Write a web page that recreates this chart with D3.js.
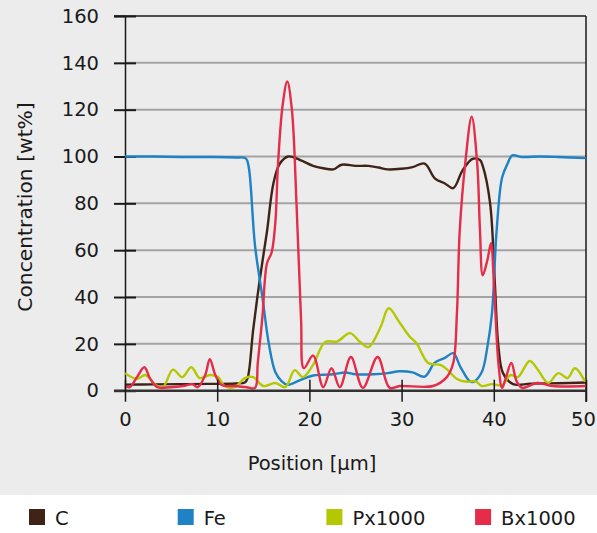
<!DOCTYPE html>
<html lang="en">
<head>
<meta charset="UTF-8">
<title>Concentration profile</title>
<script src="https://d3js.org/d3.v7.min.js"></script>
<style>
    body { margin: 0; padding: 0; background: #fff; }
    svg { display: block; }
    text { font-family: "DejaVu Sans", Arial, sans-serif; fill: #1a1a1a; }
</style>
</head>
<body>
<script>
// series: [position (µm), concentration]
const seriesC = [[0,2.6],[3,2.7],[6,2.8],[9,2.9],[12,3.1],[13,3.5],[13.3,5.4],[13.9,26],[14.6,47],[15.4,68],[16.1,88.6],[16.8,97],[17.7,100],[19,98.5],[20.4,96],[21.5,95],[22.6,94.5],[23.5,96.5],[25,96],[26.4,96],[27.5,95.3],[28.5,94.5],[30,94.8],[31.2,95.5],[32.5,97],[33.6,90.7],[34.7,88.5],[35.6,86.5],[36.6,94],[37.7,99],[38.5,98.5],[38.8,96],[39.6,80],[40.1,47],[40.5,19],[41,7.5],[42.1,2.8],[44,3],[47,3.2],[50,3.5]];
const seriesFe = [[0,100],[3,100],[6,99.8],[9,99.8],[12,99.6],[13.1,99.2],[13.4,96],[14.1,62],[14.9,40],[15.6,20],[16.3,8],[17,4],[17.6,2.5],[19,4.5],[20.4,6.5],[21.5,6.8],[22.6,7],[23.9,7.8],[25,7],[27,7],[28.5,7.5],[29.8,8.3],[31.2,7.8],[32.5,6],[33.6,12],[34.7,14],[35.6,16],[36.4,10],[37.4,4],[37.8,3.8],[38.7,8],[39.3,18.6],[39.8,33],[40.3,68],[40.9,91],[41.5,97],[42,100.5],[43,99.8],[45,100],[47,99.8],[50,99.3]];
const seriesP = [[0,7.5],[1.3,5],[2.2,6.7],[3.3,2.5],[4.1,1.5],[5.2,9],[6.2,5.8],[7.2,10],[8.1,5.4],[9.2,6.7],[10.1,5.8],[10.8,2],[11.9,1.5],[13,5.4],[13.9,5.8],[15,2],[16.3,3.3],[17.4,1.5],[18.4,8.8],[19.3,5.8],[20.4,11],[21.7,20.8],[23,21],[24.4,24.6],[25.5,20.8],[26.4,18.6],[27.7,27],[28.6,35.2],[29.8,29],[30.9,23],[31.6,20.4],[32.9,11.8],[34.2,11],[34.9,9.2],[36,5],[37.1,3.8],[38,4.1],[38.7,2],[39.8,2.8],[40.9,2.4],[41.8,6.7],[42.6,5.8],[43.9,12.7],[44.8,8.8],[45.9,3.3],[47,7.5],[48,5.4],[48.8,9.6],[49.9,3.8]];
const seriesB = [[0,2],[0.5,1.5],[1.3,5.8],[2.1,10],[2.7,5.4],[3.5,1.5],[4.9,1.5],[6.3,2],[7.3,2.8],[7.9,1.5],[8.7,6.7],[9.2,13.5],[9.8,6.7],[10.5,2.4],[11.9,2],[13.2,1.5],[14.1,1.2],[14.4,11.8],[14.9,31.4],[15.4,54.4],[15.9,59],[16.3,71.5],[16.6,97],[17.1,122],[17.6,132],[18.1,120],[18.6,80],[19.1,30],[19.4,9.6],[20.4,15],[21.5,1.5],[22.4,9.6],[23.3,1.5],[24.5,14.4],[25.8,1.2],[27.4,14.4],[28.7,1.2],[29.8,2],[33.4,2],[34.9,5.8],[35.6,11.8],[36,33],[36.3,68],[36.9,97],[37.6,117],[38.2,97],[38.5,68.5],[38.8,49.3],[39.3,55.7],[39.7,63],[40,47],[40.5,11.8],[40.9,1.2],[41.3,5.4],[41.9,11.8],[42.5,3.8],[43.1,1.2],[44.7,3.3],[46.4,2],[50,2]];

const legendNames = ["C", "Fe", "Px1000", "Bx1000"];
const colors = ["#3f2317", "#1e82c5", "#b3c800", "#e52c48"];
const yTicks = [0, 20, 40, 60, 80, 100, 120, 140, 160];
const xTicks = [0, 10, 20, 30, 40, 50];

const W = 597, H = 533;
const fontSize = 19.5;
const svg = d3.select("body").append("svg").attr("width", W).attr("height", H);

svg.append("rect").attr("width", W).attr("height", 495).attr("fill", "#ececec");

const x = d3.scaleLinear().domain([0, 50]).range([125, 586]);
const y = d3.scaleLinear().domain([0, 160]).range([390.7, 16]);

// gridlines
svg.append("g").selectAll("line")
    .data(yTicks.filter(d => d > 0 && d < 160))
    .enter().append("line")
    .attr("x1", 125).attr("x2", 586)
    .attr("y1", d => y(d)).attr("y2", d => y(d))
    .attr("stroke", "#a3a3a3").attr("stroke-width", 2);

// top and right frame
svg.append("line").attr("x1", 114).attr("x2", 586).attr("y1", y(160)).attr("y2", y(160))
    .attr("stroke", "#1a1a1a").attr("stroke-width", 1.5);
svg.append("line").attr("x1", 586).attr("x2", 586).attr("y1", y(160)).attr("y2", 402)
    .attr("stroke", "#1a1a1a").attr("stroke-width", 1.5);

// y axis
const yAxis = svg.append("g").attr("transform", "translate(125,0)")
    .call(d3.axisLeft(y).tickValues(yTicks).tickSize(11).tickPadding(15));
yAxis.select(".domain").attr("stroke", "#1a1a1a").attr("stroke-width", 1.5);
yAxis.selectAll(".tick line").clone().attr("x2", 11);
yAxis.selectAll(".tick line").attr("stroke", "#1a1a1a").attr("stroke-width", 2);
yAxis.selectAll(".tick text").attr("font-size", fontSize).attr("fill", "#1a1a1a")
    .style("font-family", "'DejaVu Sans', sans-serif");

// lines
const line = d3.line()
    .x(d => x(d[0])).y(d => y(d[1]))
    .curve(d3.curveCatmullRom.alpha(0.5));
[seriesC, seriesFe, seriesP, seriesB].forEach((s, i) => {
    svg.append("path").datum(s)
        .attr("fill", "none")
        .attr("stroke", colors[i])
        .attr("stroke-width", 2.4)
        .attr("d", line);
});

// x axis
const xAxis = svg.append("g").attr("transform", `translate(0,${y(0)})`)
    .call(d3.axisBottom(x).tickValues(xTicks).tickSize(11).tickPadding(10));
xAxis.select(".domain").remove();
xAxis.insert("line", ":first-child").attr("x1", 114).attr("x2", 586)
    .attr("stroke", "#333").attr("stroke-width", 2.5);
xAxis.selectAll(".tick line").clone().attr("y2", -11);
xAxis.selectAll(".tick line").attr("stroke", "#1a1a1a").attr("stroke-width", 1.5);
xAxis.selectAll(".tick text").attr("font-size", fontSize).attr("fill", "#1a1a1a")
    .style("font-family", "'DejaVu Sans', sans-serif")
    .attr("dx", d => d === 50 ? -3 : 0);

// axis titles
svg.append("text").attr("x", 312).attr("y", 470).attr("text-anchor", "middle")
    .attr("font-size", fontSize).text("Position [µm]");
svg.append("text").attr("transform", "translate(32,207) rotate(-90)")
    .attr("text-anchor", "middle").attr("font-size", 20.3).text("Concentration [wt%]");

// legend
const legend = svg.append("g").selectAll("g")
    .data(legendNames)
    .enter().append("g")
    .attr("transform", (d, i) => `translate(${29 + i * 148.7},509)`);
legend.append("rect").attr("width", 16).attr("height", 16).attr("fill", (d, i) => colors[i]);
legend.append("text").attr("x", 26).attr("y", 15.5).attr("font-size", fontSize).text(d => d);
</script>
</body>
</html>
